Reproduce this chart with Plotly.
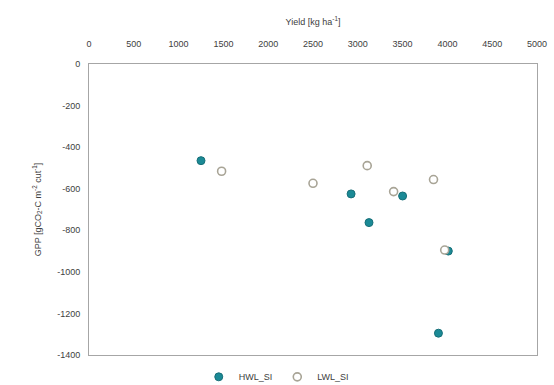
import plotly.graph_objects as go

# Data
hwl_yield = [1250, 2925, 3500, 3125, 4010, 3900]
hwl_gpp = [-465, -625, -635, -763, -900, -1295]

lwl_yield = [1480, 2500, 3105, 3400, 3845, 3970]
lwl_gpp = [-516, -574, -489, -614, -556, -895]

x_ticks = [0, 500, 1000, 1500, 2000, 2500, 3000, 3500, 4000, 4500, 5000]
y_ticks = [0, -200, -400, -600, -800, -1000, -1200, -1400]

font_family = "Liberation Sans, Arial, sans-serif"

fig = go.Figure()
fig.add_trace(go.Scatter(
    x=hwl_yield, y=hwl_gpp, mode="markers", name="HWL_SI",
    marker=dict(symbol="circle", size=8, color="#1b8a96",
                line=dict(color="#176f78", width=1)),
))
fig.add_trace(go.Scatter(
    x=lwl_yield, y=lwl_gpp, mode="markers", name="LWL_SI",
    marker=dict(symbol="circle", size=8, color="rgba(255,255,255,1)",
                line=dict(color="#a8a496", width=1.6)),
))

fig.update_layout(
    width=554, height=385,
    margin=dict(l=89, r=17, t=64, b=30, autoexpand=False),
    paper_bgcolor="white", plot_bgcolor="white",
    font=dict(family=font_family, size=9, color="#404040"),
    showlegend=True,
    legend=dict(orientation="h", x=0.245, xanchor="left", y=-0.075, yanchor="middle",
                font=dict(size=9, color="#404040"),
                tracegroupgap=0, bgcolor="rgba(0,0,0,0)"),
    xaxis=dict(
        side="top", range=[0, 5000], tickvals=x_ticks,
        ticktext=[str(v) for v in x_ticks],
        showgrid=False, zeroline=False, showline=True, mirror=True,
        linecolor="#a6a6a6", linewidth=1, ticks="", ticklabelstandoff=12,
        title=dict(text="Yield [kg ha<sup>-1</sup>]", font=dict(size=9), standoff=12),
        tickfont=dict(size=9),
    ),
    yaxis=dict(
        range=[-1400, 0], tickvals=y_ticks,
        ticktext=[str(v) for v in y_ticks],
        showgrid=False, zeroline=False, showline=True, mirror=True,
        linecolor="#a6a6a6", linewidth=1, ticks="", ticklabelstandoff=6,
        title=dict(text="GPP [gCO<sub>2</sub>-C m<sup>-2</sup> cut<sup>-1</sup>]",
                   font=dict(size=9), standoff=14),
        tickfont=dict(size=9),
    ),
)

fig.write_html("out.html")
